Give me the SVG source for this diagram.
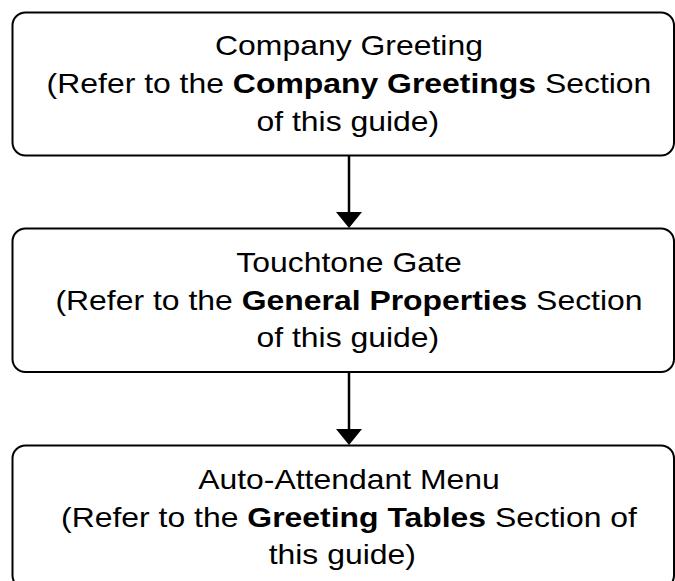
<svg xmlns="http://www.w3.org/2000/svg" width="675" height="581" viewBox="0 0 675 581">
<style>
.box{fill:#fff;stroke:#000;stroke-width:2}
.t{font-family:"Liberation Sans",Arial,sans-serif;font-size:28.5px;fill:#000;text-anchor:middle}
.b{font-weight:bold}
.ln{stroke:#000;stroke-width:2.5;fill:none}
</style>
<rect width="675" height="581" fill="#fff"/>
<g id="connectors">
<line class="ln" x1="349" y1="156" x2="349" y2="213"/>
<polygon points="336,212 362,212 349,228"/>
<line class="ln" x1="349" y1="373" x2="349" y2="430"/>
<polygon points="336,429 362,429 349,445"/>
</g>
<g id="node1">
<rect class="box" x="12.5" y="12.5" width="661.5" height="143" rx="13"/>
<g transform="matrix(1.12 0 0 1 -41.88 0)">
<text class="t" x="349" y="55">Company Greeting</text>
<text class="t" x="349" y="93">(Refer to the <tspan class="b">Company Greetings</tspan> Section</text>
<text class="t" x="348" y="131">of this guide)</text>
</g>
</g>
<g id="node2">
<rect class="box" x="12.5" y="228.5" width="661.5" height="143.5" rx="13"/>
<g transform="matrix(1.12 0 0 1 -41.88 0)">
<text class="t" x="349" y="272">Touchtone Gate</text>
<text class="t" x="349" y="310">(Refer to the <tspan class="b">General Properties</tspan> Section</text>
<text class="t" x="348" y="347">of this guide)</text>
</g>
</g>
<g id="node3">
<rect class="box" x="12.5" y="445.5" width="661.5" height="143" rx="13"/>
<g transform="matrix(1.12 0 0 1 -41.88 0)">
<text class="t" x="349" y="489">Auto-Attendant Menu</text>
<text class="t" x="349" y="527">(Refer to the <tspan class="b">Greeting Tables</tspan> Section of</text>
<text class="t" x="343" y="564">this guide)</text>
</g>
</g>
</svg>
